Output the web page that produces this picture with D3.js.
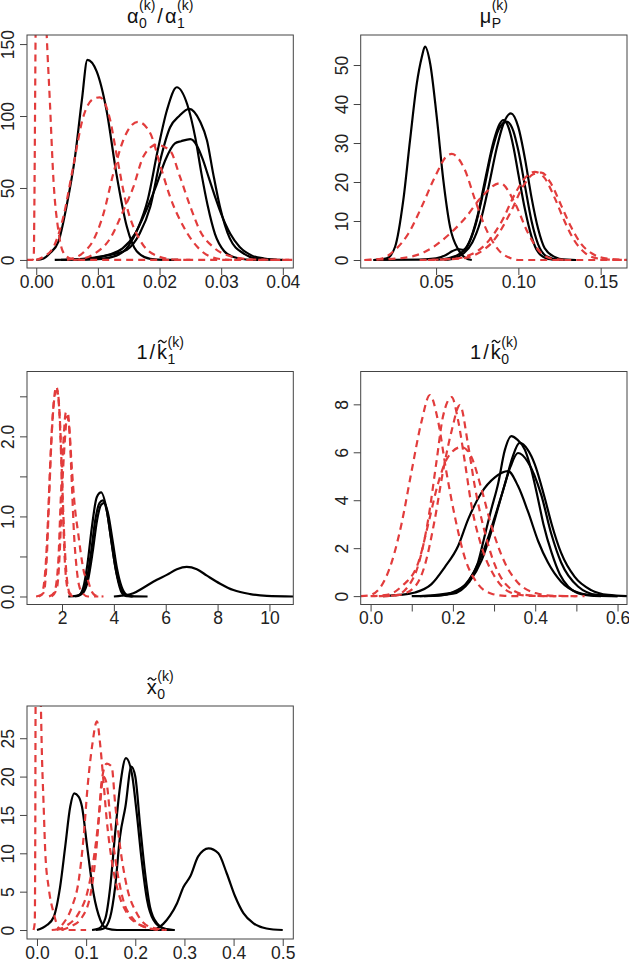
<!DOCTYPE html>
<html><head><meta charset="utf-8">
<script src="https://cdn.jsdelivr.net/npm/d3@7"></script>
<style>body{margin:0;background:#fff} text{font-family:"Liberation Sans",Arial,sans-serif}</style>
</head><body><svg id="c" width="629" height="959"></svg>
<script>
// ---------- Panel 1: alpha0/alpha1 ----------
const p1XLim = [-0.0015, 0.0417];
const p1YLim = [-5.6, 156.3];
const p1XTicks = [0, 0.01, 0.02, 0.03, 0.04];
const p1XLabels = ["0.00", "0.01", "0.02", "0.03", "0.04"];
const p1YTicks = [0, 50, 100, 150];
const p1YLabels = ["0", "50", "100", "150"];
const p1Black = [
  [[0.000,0],[0.0012,1],[0.0022,4.6],[0.0036,12.7],[0.0049,37],[0.0063,72],[0.0074,111],[0.0083,139],[0.0098,131],[0.0114,104],[0.0130,60],[0.0147,23],[0.0163,6],[0.0185,0.8],[0.021,0.1],[0.023,0]],
  [[0.006,0],[0.010,0.5],[0.013,3],[0.015,10],[0.0165,22],[0.0181,42],[0.0197,76],[0.0212,104],[0.0228,120],[0.0245,108],[0.0258,85],[0.0268,60],[0.0278,38],[0.029,18],[0.0305,6],[0.032,2],[0.034,0.3],[0.036,0]],
  [[0.004,0],[0.008,0.5],[0.0103,2],[0.0125,4],[0.0147,7],[0.0168,18.5],[0.0185,37],[0.0201,69],[0.0217,92],[0.0232,100],[0.0248,105],[0.0266,96],[0.0277,83],[0.0287,60],[0.0298,37],[0.0314,15],[0.0336,4.6],[0.0363,0.5],[0.039,0]],
  [[0.003,0],[0.008,1],[0.012,4],[0.014,8],[0.016,18],[0.0178,34],[0.0195,52],[0.021,70],[0.0225,81],[0.0235,82.5],[0.025,84],[0.026,80],[0.027,70],[0.028,57],[0.029,44],[0.030,32],[0.0315,18],[0.033,9],[0.035,3],[0.037,1],[0.040,0]]
];
const p1Red = [
  [[-0.0015,0],[-0.0006,0],[-0.0004,3],[-0.0003,40],[-0.0001,160],[0.0002,240],[0.0007,265],[0.0012,215],[0.0017,156],[0.0022,111],[0.0028,55],[0.0036,20],[0.0043,6],[0.0053,1.4],[0.0065,0.2],[0.008,0],[0.042,0]],
  [[0.000,0],[0.0011,2],[0.0028,9],[0.0044,30],[0.0060,65],[0.0076,99],[0.0093,112],[0.0103,113],[0.0120,97],[0.0130,74],[0.0147,37],[0.0168,14],[0.0195,3],[0.0223,0.3],[0.025,0]],
  [[0.005,0],[0.0076,5],[0.0093,14],[0.0109,32],[0.0125,60],[0.0141,83],[0.0165,96],[0.0185,88],[0.0201,66],[0.0217,44],[0.0239,23],[0.0266,7],[0.0293,1],[0.032,0]],
  [[0.006,0],[0.0071,0.5],[0.0093,4],[0.0120,15],[0.0141,34],[0.0157,50],[0.0174,72],[0.0195,80],[0.0217,76],[0.0233,58],[0.025,37],[0.0266,20],[0.0287,9],[0.0320,2],[0.0352,0.3],[0.0417,0]]
];

// ---------- Panel 2: mu_P ----------
const p2XLim = [0.0042, 0.166];
const p2YLim = [-2.05, 57.7];
const p2XTicks = [0.05, 0.10, 0.15];
const p2XLabels = ["0.05", "0.10", "0.15"];
const p2YTicks = [0, 10, 20, 30, 40, 50];
const p2YLabels = ["0", "10", "20", "30", "40", "50"];
const p2Black = [
  [[0.0119,0],[0.020,0.4],[0.0251,3.4],[0.0301,15.4],[0.0342,30.8],[0.0383,45.3],[0.0413,52],[0.0433,54.7],[0.0464,50.4],[0.0504,36.7],[0.0544,20.5],[0.0585,8.5],[0.0636,2.6],[0.0680,0.5],[0.0717,0]],
  [[0.012,0],[0.040,0.1],[0.050,0.4],[0.056,1.3],[0.060,2.3],[0.0635,2.8],[0.0665,2.6],[0.070,4.5],[0.075,11],[0.080,21],[0.085,30.5],[0.0885,34.8],[0.0909,35.9],[0.094,34],[0.097,29],[0.100,22],[0.104,13],[0.108,6],[0.112,2],[0.118,0.3],[0.125,0]],
  [[0.050,0],[0.058,0.5],[0.064,1.5],[0.069,3.5],[0.074,9],[0.079,18],[0.084,28],[0.088,33.5],[0.0929,35.5],[0.097,33],[0.100,28],[0.104,19],[0.108,10],[0.112,4],[0.117,1],[0.125,0.1],[0.135,0]],
  [[0.055,0],[0.062,0.6],[0.067,1.8],[0.072,4.5],[0.077,10],[0.082,19],[0.087,29],[0.091,35],[0.0955,37.6],[0.100,34],[0.104,26],[0.108,16],[0.112,8],[0.116,3],[0.122,0.8],[0.128,0.1],[0.135,0]]
];
const p2Red = [
  [[0.0065,0],[0.011,0.1],[0.017,0.4],[0.0251,2.6],[0.0332,6.8],[0.0413,13.7],[0.0494,21.4],[0.0575,27],[0.0595,27.2],[0.0676,23],[0.0737,15.4],[0.0798,8.5],[0.0879,2.6],[0.095,0.5],[0.100,0],[0.166,0]],
  [[0.0065,0],[0.013,0.1],[0.0271,0.4],[0.0433,2.1],[0.0575,6.4],[0.0676,10.7],[0.0777,16.2],[0.0889,19.7],[0.098,14.5],[0.106,6.8],[0.114,1.7],[0.122,0.2],[0.130,0]],
  [[0.040,0],[0.060,0.3],[0.070,1.2],[0.080,4],[0.090,10],[0.098,17],[0.104,21],[0.110,22.6],[0.116,21],[0.122,16],[0.128,10],[0.134,5],[0.140,2],[0.146,0.6],[0.155,0.1],[0.166,0]],
  [[0.045,0],[0.065,0.4],[0.075,1.6],[0.085,5],[0.095,12],[0.103,19],[0.109,22],[0.114,22.4],[0.120,19.5],[0.126,14],[0.132,8.5],[0.138,4.2],[0.145,1.6],[0.155,0.3],[0.166,0.05]]
];

// ---------- Panel 3: 1/k1 ----------
const p3XLim = [0.65, 10.92];
const p3YLim = [-0.1, 2.81];
const p3XTicks = [2, 4, 6, 8, 10];
const p3XLabels = ["2", "4", "6", "8", "10"];
const p3YTicks = [0, 0.5, 1, 1.5, 2, 2.5];
const p3YLabels = ["0.0", "", "1.0", "", "2.0", ""];
const p3Black = [
  [[2.24,0],[2.63,0.01],[2.82,0.11],[2.98,0.40],[3.15,0.86],[3.34,1.24],[3.51,1.30],[3.73,1.07],[3.92,0.65],[4.11,0.27],[4.3,0.05],[4.5,0.005],[5.3,0]],
  [[2.5,0],[2.75,0.04],[2.95,0.2],[3.12,0.55],[3.28,0.95],[3.45,1.17],[3.58,1.2],[3.72,1.08],[3.88,0.75],[4.05,0.38],[4.25,0.12],[4.45,0.02],[4.7,0]],
  [[2.55,0],[2.8,0.04],[3.0,0.2],[3.18,0.55],[3.35,0.95],[3.5,1.14],[3.63,1.17],[3.78,1.03],[3.95,0.7],[4.12,0.35],[4.3,0.12],[4.5,0.02],[4.75,0]],
  [[4.0,0],[4.3,0.01],[4.75,0.04],[5.14,0.11],[5.66,0.21],[6.04,0.27],[6.43,0.34],[6.81,0.37],[7.2,0.34],[7.59,0.26],[8.1,0.16],[8.61,0.08],[9.26,0.03],[9.9,0.008],[10.92,0]]
];
const p3Red = [
  [[1.0,0],[1.2,0.02],[1.35,0.3],[1.45,0.9],[1.55,1.7],[1.65,2.3],[1.78,2.62],[1.88,2.4],[1.95,1.9],[2.02,1.2],[2.1,0.5],[2.2,0.12],[2.35,0.01],[2.6,0]],
  [[1.1,0],[1.3,0.05],[1.4,0.4],[1.5,1.2],[1.6,2.0],[1.72,2.5],[1.82,2.57],[1.92,2.2],[2.0,1.5],[2.08,0.8],[2.18,0.25],[2.3,0.04],[2.5,0]],
  [[1.5,0],[1.7,0.05],[1.85,0.4],[1.95,1.2],[2.05,1.9],[2.15,2.3],[2.22,2.3],[2.3,2.0],[2.38,1.4],[2.46,0.8],[2.55,0.4],[2.65,0.15],[2.8,0.04],[3.0,0],[3.4,0]],
  [[1.6,0],[1.8,0.1],[1.92,0.6],[2.0,1.3],[2.1,1.9],[2.2,2.25],[2.28,2.1],[2.38,1.6],[2.5,1.1],[2.62,0.8],[2.72,0.55],[2.85,0.3],[3.0,0.2],[3.12,0.08],[3.3,0.01],[3.6,0]]
];

// ---------- Panel 4: 1/k0 ----------
const p4XLim = [-0.024, 0.623];
const p4YLim = [-0.35, 9.37];
const p4XTicks = [0, 0.1, 0.2, 0.3, 0.4, 0.5, 0.6];
const p4XLabels = ["0.0", "", "0.2", "", "0.4", "", "0.6"];
const p4YTicks = [0, 2, 4, 6, 8];
const p4YLabels = ["0", "2", "4", "6", "8"];
const p4Black = [
  [[0.10,0],[0.165,0.02],[0.205,0.2],[0.237,0.6],[0.261,1.4],[0.277,2.5],[0.293,3.6],[0.310,4.7],[0.326,6.08],[0.342,6.67],[0.355,6.55],[0.375,6.1],[0.39,5.3],[0.405,4.2],[0.42,3.0],[0.44,1.8],[0.46,0.9],[0.48,0.4],[0.50,0.15],[0.53,0.03],[0.56,0]],
  [[0.13,0],[0.20,0.1],[0.24,0.6],[0.27,1.5],[0.29,2.5],[0.31,3.7],[0.33,4.9],[0.345,5.8],[0.362,6.39],[0.382,6.1],[0.399,5.5],[0.423,4.1],[0.44,3.0],[0.463,1.8],[0.496,0.8],[0.536,0.25],[0.577,0.05],[0.623,0]],
  [[0.12,0],[0.20,0.15],[0.24,0.7],[0.27,1.7],[0.30,3.2],[0.32,4.3],[0.34,5.4],[0.358,5.97],[0.382,5.6],[0.415,4.2],[0.439,2.6],[0.463,1.4],[0.504,0.4],[0.55,0.05],[0.60,0]],
  [[0.03,0],[0.07,0.05],[0.108,0.15],[0.148,0.5],[0.180,1.2],[0.213,2.1],[0.237,3.2],[0.269,4.3],[0.302,4.95],[0.334,5.21],[0.358,4.6],[0.383,3.5],[0.407,2.3],[0.431,1.4],[0.463,0.6],[0.504,0.15],[0.55,0.02],[0.60,0]]
];
const p4Red = [
  [[-0.024,0],[-0.006,0.02],[0.0226,0.34],[0.051,1.4],[0.075,3.0],[0.0995,5.2],[0.124,7.3],[0.144,8.39],[0.164,7.3],[0.184,5.2],[0.205,3.3],[0.229,1.6],[0.261,0.5],[0.294,0.1],[0.326,0.01],[0.36,0]],
  [[0.02,0],[0.059,0.03],[0.091,0.4],[0.116,1.3],[0.140,3.2],[0.160,5.6],[0.176,7.5],[0.197,8.3],[0.213,7.3],[0.229,5.6],[0.245,3.8],[0.269,2.1],[0.302,0.8],[0.342,0.14],[0.39,0.01],[0.45,0]],
  [[0.03,0],[0.07,0.05],[0.108,0.4],[0.132,1.3],[0.156,3.2],[0.176,5.2],[0.197,6.9],[0.217,7.97],[0.237,6.3],[0.253,4.6],[0.277,2.7],[0.302,1.3],[0.334,0.4],[0.38,0.04],[0.42,0],[0.5,0]],
  [[0.0,0],[0.04,0.05],[0.075,0.4],[0.116,1.4],[0.140,3.0],[0.164,4.7],[0.188,5.8],[0.221,6.22],[0.245,5.8],[0.269,4.5],[0.294,2.9],[0.326,1.4],[0.358,0.56],[0.399,0.14],[0.447,0.01],[0.52,0]]
];

// ---------- Panel 5: x0 ----------
const p5XLim = [-0.0203, 0.5215];
const p5YLim = [-1.17, 29.2];
const p5XTicks = [0, 0.1, 0.2, 0.3, 0.4, 0.5];
const p5XLabels = ["0.0", "0.1", "0.2", "0.3", "0.4", "0.5"];
const p5YTicks = [0, 5, 10, 15, 20, 25];
const p5YLabels = ["0", "5", "10", "15", "20", "25"];
const p5Black = [
  [[0.0,0],[0.0203,0.65],[0.034,1.7],[0.047,5.6],[0.0575,10.9],[0.0677,16.1],[0.076,17.8],[0.0846,17.4],[0.0915,16.1],[0.102,10.9],[0.115,4.8],[0.129,1.3],[0.142,0.2],[0.163,0],[0.28,0]],
  [[0.112,0],[0.126,0.2],[0.139,1.5],[0.149,5.6],[0.159,12.6],[0.169,18.7],[0.181,22.4],[0.193,20.4],[0.203,15.2],[0.213,9.1],[0.224,3.9],[0.237,1.3],[0.257,0.2],[0.277,0]],
  [[0.12,0],[0.136,0.2],[0.149,1.7],[0.159,5.6],[0.169,12.2],[0.180,16.1],[0.192,21.3],[0.200,20],[0.210,13.5],[0.220,7.4],[0.230,3.0],[0.244,0.9],[0.264,0.1],[0.28,0]],
  [[0.23,0],[0.244,0.2],[0.257,0.8],[0.271,1.9],[0.285,3.5],[0.298,5.6],[0.312,7.0],[0.328,9.6],[0.349,10.65],[0.369,10.0],[0.386,7.4],[0.403,4.4],[0.420,2.2],[0.440,0.9],[0.467,0.2],[0.50,0]]
];
const p5Red = [
  [[-0.007,0],[-0.0045,1],[-0.0035,12],[-0.0028,30],[-0.001,38],[0.002,40],[0.005,36],[0.008,29],[0.010,23],[0.0134,16.5],[0.017,10],[0.0236,5.6],[0.034,2.2],[0.044,0.3],[0.055,0],[0.1,0]],
  [[0.03,0],[0.041,0.1],[0.054,0.9],[0.071,3.0],[0.085,6.5],[0.095,12.2],[0.103,18.7],[0.112,23.9],[0.122,27.2],[0.129,23.9],[0.135,19.6],[0.142,14.3],[0.152,9.1],[0.166,4.8],[0.183,2.2],[0.210,0.65],[0.244,0.05],[0.26,0]],
  [[0.04,0],[0.061,0.6],[0.085,2.2],[0.102,4.8],[0.115,9.1],[0.125,14.3],[0.132,19.6],[0.142,21.7],[0.152,21.3],[0.159,16.5],[0.169,10.9],[0.183,5.6],[0.203,2.2],[0.230,0.4],[0.264,0]],
  [[0.05,0],[0.07,0.5],[0.09,1.5],[0.11,5],[0.12,10],[0.128,16],[0.135,20],[0.142,19],[0.15,14],[0.16,9],[0.175,4],[0.195,1.5],[0.22,0.4],[0.25,0]]
];

// ---------- Titles (plotmath-like atoms) ----------
const p1Title = [{t:"\u03b1", sub:"0", sup:"(k)"}, {t:"/", pad:2}, {t:"\u03b1", sub:"1", sup:"(k)"}];
const p2Title = [{t:"\u03bc", sub:"P", sup:"(k)"}];
const p3Title = [{t:"1"}, {t:"/", pad:2}, {t:"k", tilde:true, sub:"1", sup:"(k)"}];
const p4Title = [{t:"1"}, {t:"/", pad:2}, {t:"k", tilde:true, sub:"0", sup:"(k)"}];
const p5Title = [{t:"x", tilde:true, sub:"0", sup:"(k)"}];

const panels = [
  {xLim:p1XLim, yLim:p1YLim, xTicks:p1XTicks, xLabels:p1XLabels, yTicks:p1YTicks, yLabels:p1YLabels, black:p1Black, red:p1Red, title:p1Title},
  {xLim:p2XLim, yLim:p2YLim, xTicks:p2XTicks, xLabels:p2XLabels, yTicks:p2YTicks, yLabels:p2YLabels, black:p2Black, red:p2Red, title:p2Title},
  {xLim:p3XLim, yLim:p3YLim, xTicks:p3XTicks, xLabels:p3XLabels, yTicks:p3YTicks, yLabels:p3YLabels, black:p3Black, red:p3Red, title:p3Title},
  {xLim:p4XLim, yLim:p4YLim, xTicks:p4XTicks, xLabels:p4XLabels, yTicks:p4YTicks, yLabels:p4YLabels, black:p4Black, red:p4Red, title:p4Title},
  {xLim:p5XLim, yLim:p5YLim, xTicks:p5XTicks, xLabels:p5XLabels, yTicks:p5YTicks, yLabels:p5YLabels, black:p5Black, red:p5Red, title:p5Title}
];

// ---------- Layout ----------
const colLeft = [27, 360.7], boxW = 266.3;
const rowTop = [35, 371.5, 706], boxH = 233;
const FONT = 17.5, TFONT = 20, SFONT = 14;
const RED = "#e23c3c";

const svg = d3.select("#c");
svg.append("rect").attr("width",629).attr("height",959).attr("fill","#fff");

function drawTitle(g, cx, by, atoms) {
  const tg = g.append("g");
  let x = 0;
  atoms.forEach(a => {
    x += (a.pad || 0);
    const b = tg.append("text").attr("x", x).attr("y", 0).attr("font-size", TFONT).attr("fill","#111").text(a.t);
    const w = b.node().getComputedTextLength();
    if (a.tilde) {
      const ty = a.t === "k" ? -17.5 : -14.5;
      const x1 = x + 1, x2 = x + w - 0.5, mid = (x1 + x2) / 2, q = (x2 - x1) / 4;
      tg.append("path").attr("d", `M${x1},${ty+1} Q${x1+q},${ty-2.5} ${mid},${ty} T${x2},${ty-1}`)
        .attr("fill","none").attr("stroke","#111").attr("stroke-width",1.3);
    }
    let adv = 0;
    if (a.sub) {
      const s = tg.append("text").attr("x", x + w + 0.5).attr("y", 5).attr("font-size", SFONT).attr("fill","#111").text(a.sub);
      adv = Math.max(adv, s.node().getComputedTextLength() + 0.5);
    }
    if (a.sup) {
      const s = tg.append("text").attr("x", x + w + 0.5).attr("y", -12.5).attr("font-size", SFONT).attr("fill","#111").text(a.sup);
      adv = Math.max(adv, s.node().getComputedTextLength() + 0.5);
    }
    x += w + adv + (a.pad || 0);
  });
  tg.attr("transform", `translate(${cx - x / 2},${by})`);
}

panels.forEach((p, i) => {
  const x0 = colLeft[i % 2], y0 = rowTop[Math.floor(i / 2)];
  const x = d3.scaleLinear().domain(p.xLim).range([x0, x0 + boxW]);
  const y = d3.scaleLinear().domain(p.yLim).range([y0 + boxH, y0]);
  const g = svg.append("g");

  g.append("clipPath").attr("id", "clip" + i).append("rect")
    .attr("x", x0).attr("y", y0).attr("width", boxW).attr("height", boxH);

  const line = d3.line().x(d => x(d[0])).y(d => y(d[1])).curve(d3.curveMonotoneX);
  const plot = g.append("g").attr("clip-path", `url(#clip${i})`);
  plot.selectAll("path.blk").data(p.black).join("path").attr("class","blk")
    .attr("d", line).attr("fill","none").attr("stroke","#000").attr("stroke-width",2.2)
    .attr("stroke-linejoin","round");
  plot.selectAll("path.red").data(p.red).join("path").attr("class","red")
    .attr("d", line).attr("fill","none").attr("stroke",RED).attr("stroke-width",2.2)
    .attr("stroke-dasharray","7,5");

  // box
  g.append("rect").attr("x", x0).attr("y", y0).attr("width", boxW).attr("height", boxH)
    .attr("fill","none").attr("stroke","#444").attr("stroke-width",1);

  // x axis
  const xa = g.append("g").attr("transform", `translate(0,${y0 + boxH})`)
    .call(d3.axisBottom(x).tickValues(p.xTicks).tickFormat((d, j) => p.xLabels[j]).tickSize(7).tickSizeOuter(0).tickPadding(0.5));
  xa.select(".domain").remove();
  xa.selectAll("line").attr("stroke","#444");
  xa.selectAll("text").attr("font-size", FONT).attr("font-family",'"Liberation Sans",Arial,sans-serif').attr("fill","#222");

  // y axis
  const ya = g.append("g").attr("transform", `translate(${x0},0)`)
    .call(d3.axisLeft(y).tickValues(p.yTicks).tickFormat((d, j) => p.yLabels[j]).tickSize(7).tickSizeOuter(0));
  ya.select(".domain").remove();
  ya.selectAll("line").attr("stroke","#444");
  ya.selectAll("text").attr("font-size", FONT).attr("font-family",'"Liberation Sans",Arial,sans-serif').attr("fill","#222")
    .attr("x", 0).attr("y", -13).attr("dy", null).attr("text-anchor","middle").attr("transform","rotate(-90)");

  drawTitle(g, x0 + boxW / 2, y0 - 12.5, p.title);
});
</script>
</body></html>
